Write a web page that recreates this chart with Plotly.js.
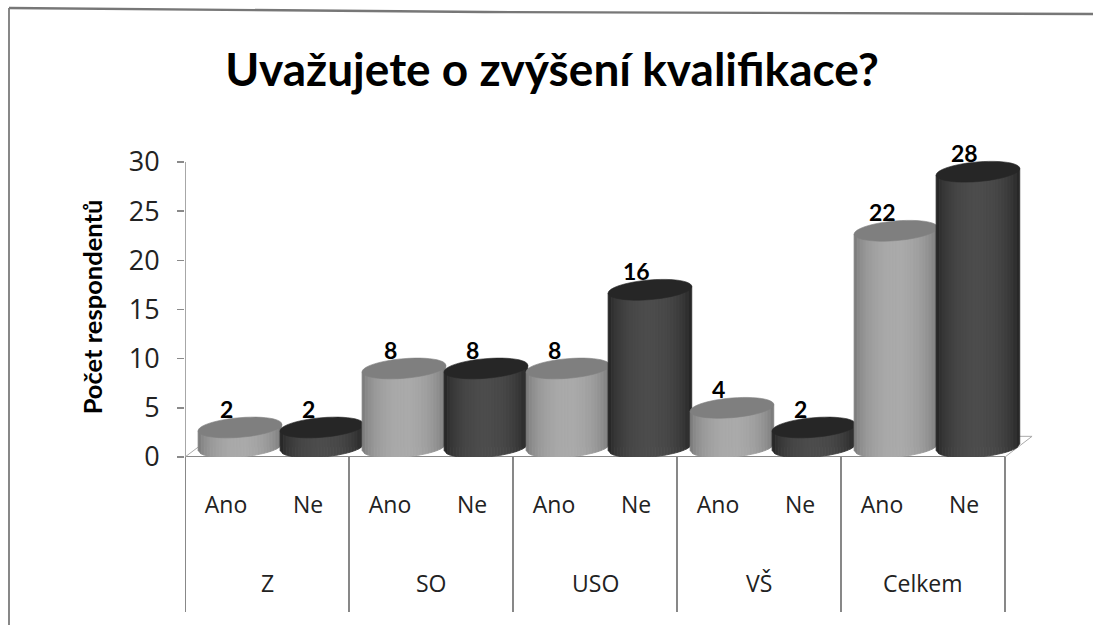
<!DOCTYPE html>
<html>
<head>
<meta charset="utf-8">
<script src="https://cdn.plot.ly/plotly-3.0.1.min.js"></script>
<style>html,body{margin:0;padding:0;background:#fff}</style>
</head>
<body>
<div id="chart" style="width:1093px;height:625px"></div>
<script>
const groups = ["Z", "SO", "USO", "VŠ", "Celkem"];
const answers = ["Ano", "Ne"];
const anoValues = [2, 8, 8, 4, 22];
const neValues = [2, 8, 16, 2, 28];
const yTicks = [0, 5, 10, 15, 20, 25, 30];

const plotH = 300, plotW = 850, yMax = 30.5;
const depth = 1, skew = 0.17, R = 0.51, ry = 1, tilt = 0.34, strips = 28;
const lightBody = {edge: [108,108,108], mid: [170,170,170], top: "#7f7f7f"};
const darkBody = {edge: [26,26,26], mid: [76,76,76], top: "#262626"};
const shade = (p, u) => {
  const k = Math.pow(Math.sin(Math.PI * u), 0.45);
  return "rgb(" + p.edge.map((e, i) => Math.round(e + (p.mid[i] - e) * k)).join(",") + ")";
};
const slots = [], labels = [];
groups.forEach((g, i) => {
  slots.push({c: 2 * i + 0.5, v: anoValues[i], p: lightBody});
  slots.push({c: 2 * i + 1.5, v: neValues[i], p: darkBody});
  labels.push(...answers);
});

const shapes = [];
slots.forEach(s => {
  const cx = s.c + skew, yTop = s.v + depth;
  for (let k = 0; k < strips; k++) {
    const u0 = k / strips, u1 = (k + 1) / strips;
    const a = -R + 2 * R * u0, b = -R + 2 * R * u1;
    const low = x => depth + tilt * x / R - ry * Math.sqrt(Math.max(0, 1 - x * x / (R * R)));
    const up = x => yTop + tilt * x / R;
    const c = shade(s.p, (u0 + u1) / 2);
    shapes.push({type: "path", xref: "x", yref: "y", layer: "above",
      path: `M${cx + a},${up(a)}L${cx + b},${up(b)}L${cx + b},${low(b)}L${cx + a},${low(a)}Z`,
      fillcolor: c, line: {color: c, width: 0.8}});
  }
  let d = "";
  for (let t = 0; t <= 48; t++) {
    const th = 2 * Math.PI * t / 48;
    d += (t ? "L" : "M") + (cx + R * Math.cos(th)) + "," + (yTop + ry * Math.sin(th) + tilt * Math.cos(th));
  }
  shapes.push({type: "path", xref: "x", yref: "y", layer: "above", path: d + "Z",
    fillcolor: s.p.top, line: {color: s.p.top, width: 0.6}});
});

const grey = "#8a8a8a", dark = "#555";
const seg = (x0, y0, x1, y1, color, width) => ({type: "line", xref: "x", yref: "y", x0, y0, x1, y1,
  layer: "below", line: {color, width}});
shapes.unshift(seg(0, 0, 0, 30, grey, 1.5), seg(0, 0, 10, 0, grey, 1.8),
  seg(0, 0, 0.16, 1, "#aaa", 1), seg(10, 0, 10.33, 2.1, "#aaa", 1), seg(10.33, 2.1, 10.17, 2.1, "#aaa", 1));
for (let i = 0; i <= groups.length; i++) {
  shapes.push({type: "line", xref: "x", yref: "paper", x0: 2 * i, x1: 2 * i, y0: 0, y1: -155 / plotH,
    layer: "below", line: {color: dark, width: 1.4}});
}
// Scanned page frame
shapes.push({type: "line", xref: "paper", yref: "paper", x0: -176 / plotW, x1: -176 / plotW, y0: -168 / plotH, y1: (plotH + 149) / plotH,
  layer: "below", line: {color: "#555", width: 1.4}});
shapes.push({type: "path", xref: "paper", yref: "paper", layer: "below",
  path: `M${-176 / plotW},${(plotH + 149) / plotH}L${300 / plotW},${(plotH + 145) / plotH}L${908 / plotW},${(plotH + 143) / plotH}`,
  fillcolor: "rgba(0,0,0,0)", line: {color: "#777", width: 2.4}});

const annotations = slots.map(s => ({x: s.c, y: (s.v + 2.9) / yMax, xref: "x", yref: "paper", text: String(s.v),
  showarrow: false, yanchor: "middle", font: {family: "Lato", size: 23, color: "#000", weight: 700}}));
groups.forEach((g, i) => annotations.push({x: 2 * i + 1, y: -126 / plotH, xref: "x", yref: "paper", text: g,
  showarrow: false, yanchor: "middle", font: {family: "Open Sans", size: 23, color: "#222"}}));

const bar = (name, values, p, off) => ({type: "bar", name,
  x: values.map((_, i) => 2 * i + off + skew), y: values, base: values.map(() => depth),
  width: 0.9, marker: {color: "rgb(" + p.mid.join(",") + ")", line: {width: 0}}, hoverinfo: "y"});

Plotly.newPlot("chart", [bar("Ano", anoValues, lightBody, 0.5), bar("Ne", neValues, darkBody, 1.5)], {
  width: 1093, height: 625, showlegend: false, barmode: "overlay",
  paper_bgcolor: "#fff", plot_bgcolor: "rgba(0,0,0,0)",
  margin: {l: 185, r: 58, t: 157, b: 168, pad: 0},
  title: {text: "<b>Uvažujete o zvýšení kvalifikace?</b>", x: 552 / 1093, xanchor: "center", y: 1 - 70 / 625, yanchor: "middle", yref: "container",
    font: {family: "Lato", size: 46, color: "#000"}},
  xaxis: {range: [0, plotW / 82], tickmode: "array", tickvals: slots.map(s => s.c), ticktext: labels,
    showgrid: false, zeroline: false, showline: false, ticks: "outside", ticklen: 27, tickcolor: "rgba(0,0,0,0)",
    tickfont: {family: "Open Sans", size: 23, color: "#222"}, tickangle: 0},
  yaxis: {range: [0, yMax], tickmode: "array", tickvals: yTicks, showgrid: false, zeroline: false, showline: false,
    ticks: "outside", ticklen: 7, tickcolor: grey, tickwidth: 1.4, ticklabelstandoff: 12,
    tickfont: {family: "Open Sans", size: 27, color: "#222"},
    title: {text: "<b>Počet respondentů</b>", standoff: 18, font: {family: "Lato", size: 25.5, color: "#000"}}},
  shapes,
  annotations
}, {displayModeBar: false, staticPlot: true});
</script>
</body>
</html>
